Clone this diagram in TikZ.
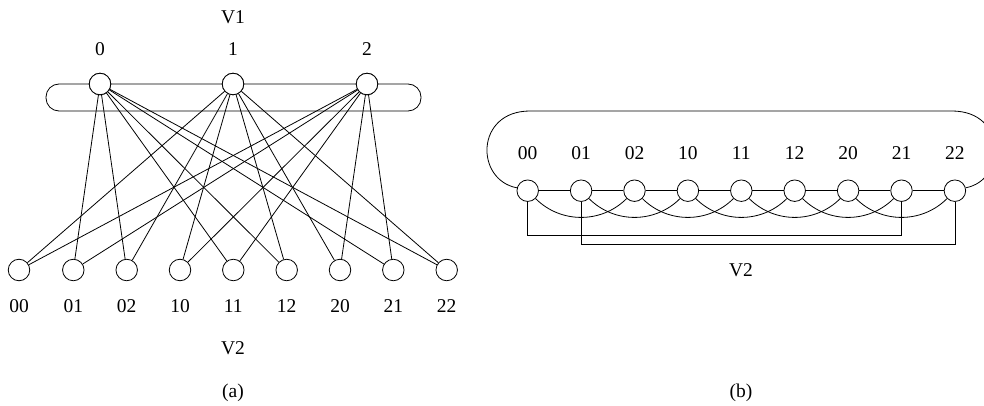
\documentclass[tikz,border=0pt]{standalone}
\usepackage{fontspec}
\setmainfont{Liberation Serif}
\begin{document}
\begin{tikzpicture}[x=1pt,y=-1pt,
  vert/.style={circle,draw,fill=white,minimum size=21.5pt,inner sep=0pt},
  lbl/.style={font=\fontsize{19.5}{22}\selectfont,inner sep=0pt},
  every path/.style={line width=0.8pt}]
\useasboundingbox (0,0) rectangle (984,406);

% ---------- (a) bipartite graph ----------
\draw[rounded corners=13pt] (46,84) rectangle (421,111);
\foreach \i/\x in {0/100,1/233,2/367}{
  \node[vert] (t\i) at (\x,84) {};
  \node[lbl] (tl\i) at (\x,49) {\i};
}
\node[lbl] (v1) at (233,17) {V1};
\foreach \n/\x in {00/19,01/73.3,02/126.7,10/180,11/233.3,12/286.7,20/340,21/393.3,22/446.7}{
  \node[vert] (b\n) at (\x,270) {};
  \node[lbl] (bl\n) at (\x,306.5) {\n};
}
\node[lbl] (v2a) at (233,348.5) {V2};
\node[lbl] (capa) at (233,393) {(a)};
% vertex i is joined to every jk with k different from i
\foreach \t/\list in {0/{01,02,11,12,21,22},1/{00,02,10,12,20,22},2/{00,01,10,11,20,21}}{
  \foreach \b in \list { \draw (t\t) -- (b\b); }
}
% redraw circles on top of the lines
\foreach \i/\x in {0/100,1/233,2/367}{ \node[vert] at (\x,84) {}; }

% ---------- (b) ring of V2 ----------
\foreach \n [count=\k from 0] in {00,01,02,10,11,12,20,21,22}{
  \node[vert] (r\n) at ({527.7+53.4*\k},190.7) {};
  \node[lbl] (rl\n) at ({527.7+53.4*\k},153) {\n};
}
\node[lbl] (v2b) at (741,270) {V2};
\node[lbl] (capb) at (741,393) {(b)};

% path through consecutive vertices
\draw (r00) -- (r01) -- (r02) -- (r10) -- (r11) -- (r12) -- (r20) -- (r21) -- (r22);
% arcs joining vertices two apart
\foreach \a/\b in {00/02,01/10,02/11,10/12,11/20,12/21,20/22}{
  \draw (r\a) to[out=-45,in=-135] (r\b);
}
% rectangular links
\draw (r00.south) -- (r00.south |- 0,235) -| (r21.south);
\draw (r01.south) -- (r01.south |- 0,244) -| (r22.south);
% outer loop from 00 round the top to 22
\draw (r00.165) .. controls (475,180) and (475,111) .. (530,111)
      -- (952,111) .. controls (1007,111) and (1007,180) .. (r22.15);
\end{tikzpicture}
\end{document}
